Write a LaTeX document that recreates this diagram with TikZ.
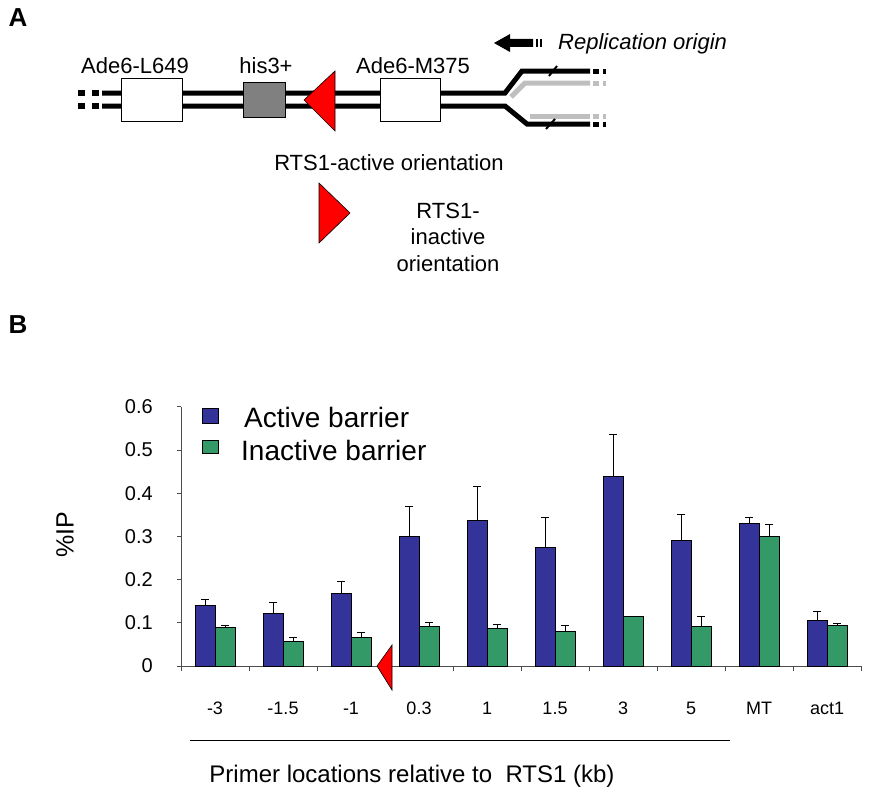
\documentclass[tikz,border=0pt]{standalone}
\usepackage{fontspec}
\setmainfont{Liberation Sans}
\begin{document}
\begin{tikzpicture}[x=1pt,y=-1pt,
 lbl/.style={font=\fontsize{22}{26}\selectfont,inner sep=0},
 ax/.style={font=\fontsize{20}{24}\selectfont,inner sep=0},
 dna/.style={line width=5pt},
 box/.style={draw,line width=0.8pt,fill=white},
 blu/.style={draw,line width=0.6pt,fill={rgb,255:red,51;green,51;blue,153}},
 grn/.style={draw,line width=0.6pt,fill={rgb,255:red,51;green,153;blue,102}},
 tri/.style={draw,line width=0.6pt,fill=red}]
\useasboundingbox (0,0) rectangle (869,800);
\node[font=\fontsize{26}{28}\selectfont\bfseries] (A) at (18,18) {A};
\node[font=\fontsize{26}{28}\selectfont\bfseries] (B) at (18,325) {B};
% DNA
\draw[dna] (102,93) -- (505,93) -- (522,71) -- (590,71);
\draw[dna] (102,106) -- (505,106) -- (527,124) -- (590,124);
\draw[dna,gray!50] (511,97) -- (525,83) -- (590,83);
\draw[dna,gray!50] (530,116) -- (590,116);
\foreach \y/\c in {71/black,124/black,83/gray!50,116/gray!50}{
 \fill[\c] (593,\y-2.5) rectangle (599,\y+2.5);
 \fill[\c] (603,\y-2.5) rectangle (606,\y+2.5);}
\draw[line width=2pt] (549,76) -- (557,66);
\draw[line width=2pt] (546,129) -- (555,119);
\foreach \y in {93,106}{\fill (78,\y-3) rectangle (85,\y+3); \fill (92,\y-3) rectangle (99,\y+3);}
\node[box,minimum width=61pt,minimum height=43pt] (L) at (152,99.5) {};
\node[box,fill=gray,minimum width=42pt,minimum height=35pt] (H) at (264,99.5) {};
\node[box,minimum width=60pt,minimum height=43pt] (M) at (410,99.5) {};
\draw[tri] (304,100) -- (335,71) -- (335,131) -- cycle;
\node[lbl] (tL) at (135,66) {Ade6-L649};
\node[lbl] (tH) at (266,66) {his3+};
\node[lbl] (tM) at (413,66) {Ade6-M375};
\fill (494,43) -- (510,34) -- (510,39) -- (533,39) -- (533,47) -- (510,47) -- (510,52) -- cycle;
\fill (536,39) rectangle (538,47); \fill (540,39) rectangle (542,47);
\node[lbl,anchor=west,font=\fontsize{22}{26}\selectfont\itshape] (ro) at (558,44) {Replication origin};
\node[lbl] (act) at (389,163) {RTS1-active orientation};
\draw[tri] (350,213) -- (319,183) -- (319,243) -- cycle;
\node[lbl,align=center,font=\fontsize{22}{26.5}\selectfont] (inact) at (448,237) {RTS1-\\inactive\\orientation};
% chart
\draw[line width=0.7pt,gray!60!black] (181,407) -- (181,666) -- (861,666);
\foreach \i in {0,...,6}{
 \draw[line width=0.7pt,gray!60!black] (177,666-43.2*\i) -- (181,666-43.2*\i);}
\foreach \i in {0,...,10}{\draw[line width=0.7pt,gray!60!black] (181+68*\i,666) -- (181+68*\i,671);}
\foreach \i/\t in {0/0,1/0.1,2/0.2,3/0.3,4/0.4,5/0.5,6/0.6}{
 \node[ax,anchor=east] (y\i) at (153,666-43.2*\i) {\t};}
\node[ax,rotate=90,font=\fontsize{25}{28}\selectfont] (ylab) at (65,535) {\%IP};
\foreach \k/\b/\g/\eb/\eg/\n in {0/.14/.09/.155/.093/-3,1/.122/.057/.147/.066/-1.5,2/.168/.067/.197/.079/-1,3/.30/.093/.37/.1/0.3,4/.338/.088/.416/.097/1,5/.275/.08/.344/.094/1.5,6/.44/.114/.537/.115/3,7/.292/.093/.352/.114/5,8/.33/.30/.345/.328/MT,9/.105/.095/.127/.098/act1}{
 \pgfmathsetmacro\xa{181+68*\k+14}
 \draw[line width=0.7pt] (\xa+10,666-432*\b) -- (\xa+10,666-432*\eb) (\xa+6,666-432*\eb) -- (\xa+14,666-432*\eb);
 \draw[line width=0.7pt] (\xa+30,666-432*\g) -- (\xa+30,666-432*\eg) (\xa+26,666-432*\eg) -- (\xa+34,666-432*\eg);
 \draw[blu] (\xa,666) rectangle (\xa+20,666-432*\b);
 \draw[grn] (\xa+20,666) rectangle (\xa+40,666-432*\g);
 \node[ax,font=\fontsize{18}{21}\selectfont] (c\k) at (\xa+20,708) {\n};}
\draw[tri] (377,666) -- (392,645) -- (392,690) -- cycle;
\draw[blu] (202,408) rectangle (218,423);
\draw[grn] (202,440) rectangle (218,453);
\node[ax,anchor=west,font=\fontsize{28}{30}\selectfont] (la) at (244,417) {Active barrier};
\node[ax,anchor=west,font=\fontsize{28}{30}\selectfont] (li) at (241,450) {Inactive barrier};
\draw[line width=0.8pt] (190,740) -- (730,740);
\node[ax,font=\fontsize{24}{28}\selectfont] (xt) at (412,776) {Primer locations relative to \ RTS1 (kb)};
\end{tikzpicture}
\end{document}
